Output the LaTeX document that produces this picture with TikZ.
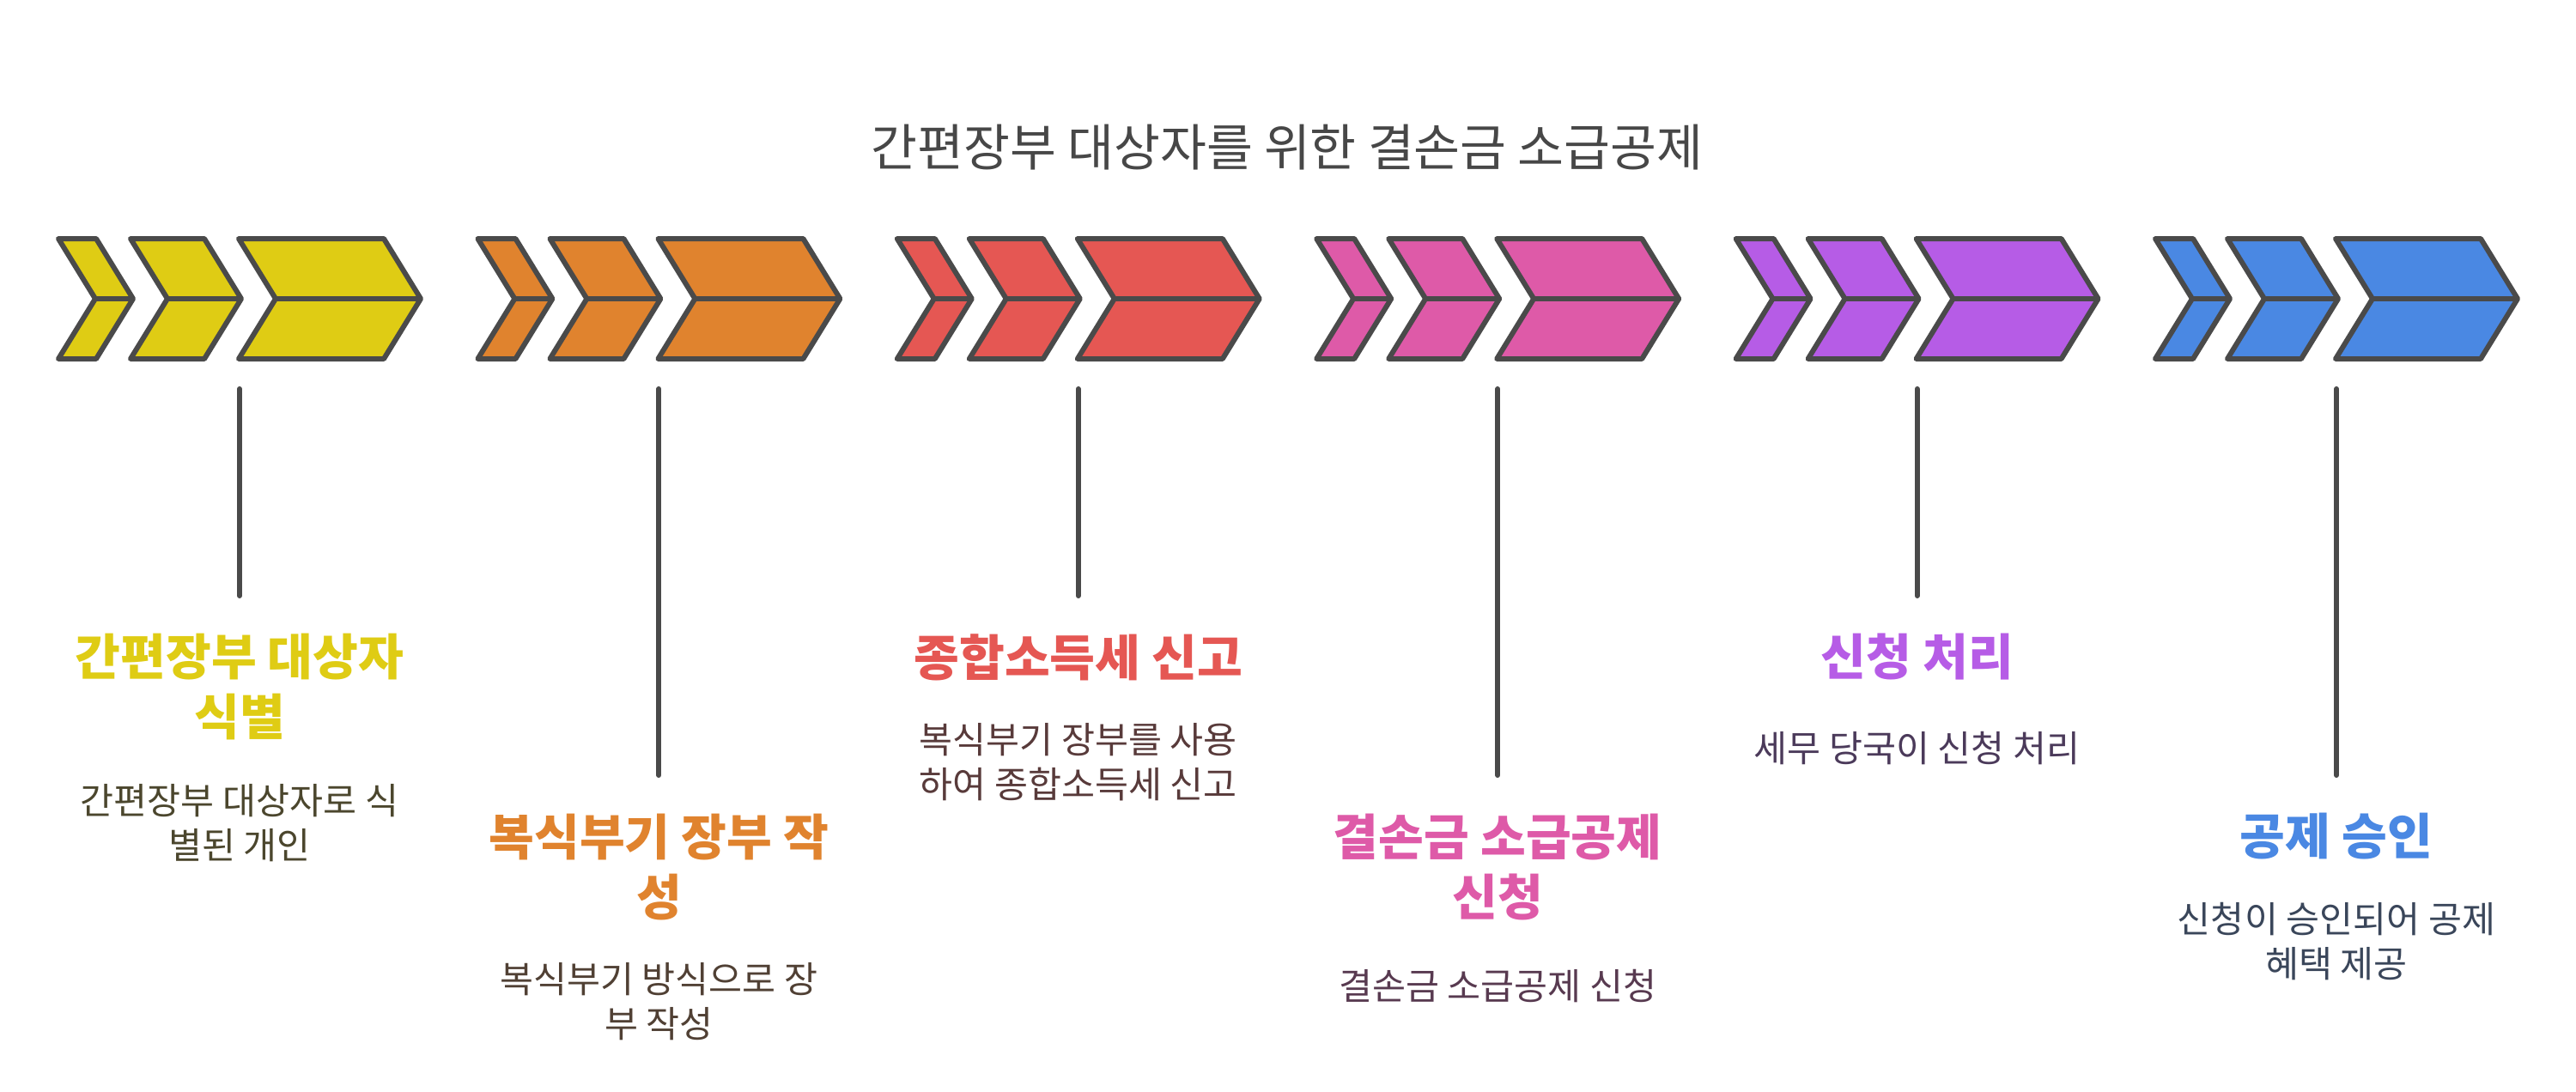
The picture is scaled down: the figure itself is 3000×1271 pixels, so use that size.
\documentclass[tikz,border=0pt]{standalone}
\usepackage{fontspec}
\newfontfamily\kr{Noto Sans CJK KR}
\definecolor{c1}{HTML}{DFCC14}
\definecolor{c2}{HTML}{E0832E}
\definecolor{c3}{HTML}{E55753}
\definecolor{c4}{HTML}{DE5AA8}
\definecolor{c5}{HTML}{B65CE6}
\definecolor{c6}{HTML}{4A88E3}
\definecolor{d1}{RGB}{75,70,45}
\definecolor{d2}{RGB}{80,64,52}
\definecolor{d3}{RGB}{88,58,58}
\definecolor{d4}{RGB}{88,58,80}
\definecolor{d5}{RGB}{75,58,90}
\definecolor{d6}{RGB}{58,70,90}
\definecolor{edge}{HTML}{4A4A4A}
\definecolor{titlec}{HTML}{474747}
\begin{document}
\begin{tikzpicture}[x=0.5pt,y=-0.5pt,
  chev/.style={draw=edge,line width=3pt,line join=round},
  midline/.style={draw=edge,line width=3pt},
  stem/.style={draw=edge,line width=3pt,line cap=round},
  head/.style={font=\kr\bfseries\fontsize{28.7pt}{35pt}\selectfont,align=center,inner sep=0pt},
  desc/.style={font=\kr\fontsize{21.2pt}{26pt}\selectfont,align=center,inner sep=0pt},
  titlestyle/.style={font=\kr\fontsize{29.3pt}{36pt}\selectfont,text=titlec,inner sep=0pt}]
\useasboundingbox[fill=white] (0,0) rectangle (3000,1271);
\node[titlestyle] (title) at (1499,172) {간편장부 대상자를 위한 결손금 소급공제};
\foreach \g/\col/\len in {1/c1/694,2/c2/903,3/c3/694,4/c4/903,5/c5/694,6/c6/903}{
  \begin{scope}[xshift={(\g-1)*244.2pt}]
    \filldraw[chev,fill=\col] (68,278) -- (112,278) -- (155,348) -- (112,418) -- (68,418) -- (111,348) -- cycle;
    \draw[midline] (111,348) -- (155,348);
    \filldraw[chev,fill=\col] (152,278) -- (238,278) -- (281,348) -- (238,418) -- (152,418) -- (195,348) -- cycle;
    \draw[midline] (195,348) -- (281,348);
    \filldraw[chev,fill=\col] (278,278) -- (447,278) -- (490,348) -- (447,418) -- (278,418) -- (321,348) -- cycle;
    \draw[midline] (321,348) -- (490,348);
    \coordinate (s\g) at (279,453);
    \coordinate (e\g) at (279,\len);
    \draw[stem] (s\g) -- (e\g);
  \end{scope}
}
\node[head,text=c1] (h1) at (279,800) {간편장부 대상자\\식별};
\node[desc,text=d1] (t1) at (279,958.5) {간편장부 대상자로 식\\별된 개인};
\node[head,text=c2] (h2) at (767.4,1010) {복식부기 장부 작\\성};
\node[desc,text=d2] (t2) at (767.4,1167) {복식부기 방식으로 장\\부 작성};
\node[head,text=c3] (h3) at (1255.8,766) {종합소득세 신고};
\node[desc,text=d3] (t3) at (1255.8,888) {복식부기 장부를 사용\\하여 종합소득세 신고};
\node[head,text=c4] (h4) at (1744.2,1010) {결손금 소급공제\\신청};
\node[desc,text=d4] (t4) at (1744.2,1149) {결손금 소급공제 신청};
\node[head,text=c5] (h5) at (2232.6,765) {신청 처리};
\node[desc,text=d5] (t5) at (2232.6,872) {세무 당국이 신청 처리};
\node[head,text=c6] (h6) at (2721,974) {공제 승인};
\node[desc,text=d6] (t6) at (2721,1097) {신청이 승인되어 공제\\혜택 제공};
\end{tikzpicture}
\end{document}
